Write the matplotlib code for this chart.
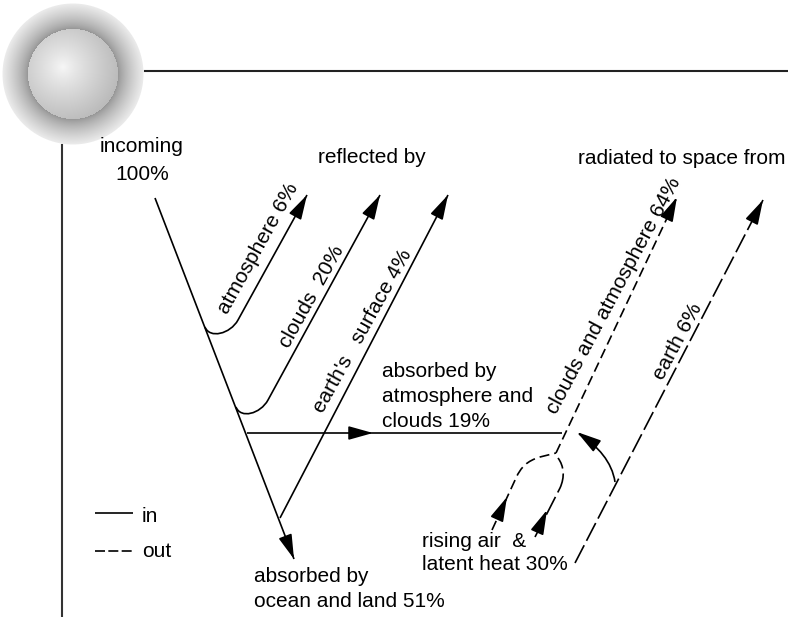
import numpy as np
import matplotlib
matplotlib.use("Agg")
from matplotlib import pyplot as plt
from matplotlib.patches import FancyArrowPatch, PathPatch
from matplotlib.path import Path

plt.rcParams['font.family'] = ['Liberation Sans', 'DejaVu Sans']

# energy budget numbers (percent of incoming sunlight)
incoming_pct = 100
reflected_names = ["atmosphere", "clouds", "earth's   surface"]
reflected_pct = [6, 20, 4]
absorbed_atm_pct = 19
absorbed_surface_pct = 51
radiated_names = ["clouds and atmosphere", "earth"]
radiated_pct = [64, 6]
rising_pct = 30

W, H = 788, 617
fig = plt.figure(figsize=(W / 100, H / 100), dpi=100)
ax = fig.add_axes([0, 0, 1, 1])

LW = 1.2
SHORT = (0, (6, 3))
LONG = (0, (12, 3))
FS = 15


def line(pts, ls='-'):
    pts = np.array(pts, float)
    ax.plot(pts[:, 0], pts[:, 1], color='k', lw=LW, ls=ls, solid_capstyle='butt',
            dash_capstyle='butt')


def curve(verts, codes, ls='-'):
    ax.add_patch(PathPatch(Path(verts, codes), fill=False, ec='k', lw=LW, ls=ls,
                           capstyle='butt'))


def head(tip, frm):
    tip = np.array(tip, float)
    frm = np.array(frm, float)
    d = (tip - frm) / np.hypot(*(tip - frm))
    ax.add_patch(FancyArrowPatch(tuple(tip - d * 22), tuple(tip),
                                 arrowstyle='-|>,head_length=1.5,head_width=0.42',
                                 mutation_scale=10, color='k', lw=LW,
                                 shrinkA=0, shrinkB=0))


M, L, C = Path.MOVETO, Path.LINETO, Path.CURVE4

# shaded sphere in the corner
yy, xx = np.mgrid[0:150, 0:150] + 0.5
r = np.hypot(xx - 73, yy - 74)
img = np.ones((150, 150, 4))
t = np.clip((r - 45) / 26, 0, 1)
halo = 0.58 + 0.35 * t ** 0.75
d = np.hypot(xx - 63, yy - 67)
sph = 0.97 - 0.0074 * d ** 0.86
gray = np.where(r < 45, sph, halo)
img[..., 0] = img[..., 1] = img[..., 2] = gray
img[..., 3] = np.clip(71 - r, 0, 1)
ax.imshow(img, extent=(0, 150, 150, 0), interpolation='bilinear', aspect='auto', zorder=0)

# frame lines
ax.plot([145, W], [71, 71], color='#222222', lw=1.5)
ax.plot([62, 62], [145, H], color='#333333', lw=1.5)

# incoming beam
line([(155, 198), (294, 559)])
head((294, 559), (155, 198))

# reflected by atmosphere
curve([(205, 327), (209.6, 339), (230.3, 334), (238, 320), (307, 195)], [M, C, C, C, L])
head((307, 195), (238, 320))
# reflected by clouds
curve([(236, 407), (240.6, 419), (260.3, 414), (268, 400), (380, 195)], [M, C, C, C, L])
head((380, 195), (268, 400))
# reflected by surface
line([(280, 518), (448, 195)])
head((448, 195), (280, 518))

# absorbed by atmosphere and clouds
line([(247, 433), (562, 433)])
head((373, 433), (247, 433))

# radiated from clouds and atmosphere
line([(556, 453), (677, 197)], ls=SHORT)
head((677, 197), (556, 453))

# rising air
curve([(492, 530), (516, 478), (521, 467), (527, 461), (540, 457), (556, 453)],
      [M, L, C, C, C, L], ls=SHORT)
head((507, 497), (492, 530))
# latent heat
curve([(535, 537), (560, 488), (565, 477), (564, 466), (558, 458)],
      [M, L, C, C, C], ls=LONG)
head((547, 510), (535, 537))

# earth radiation absorbed by atmosphere
curve([(615, 482), (612, 462), (598, 446), (579, 434)], [M, C, C, C])
head((577, 432), (597, 446))

# radiated from earth
line([(575, 563), (763, 200)], ls=LONG)
head((763, 200), (575, 563))

# legend
line([(95, 513), (133, 513)])
line([(95, 551), (133, 551)], ls=(0, (6, 2)))
ax.text(142, 522, "in", fontsize=FS, va='baseline', ha='left')
ax.text(142, 557, "out", fontsize=FS, va='baseline', ha='left')

# labels
ax.text(142, 152, "incoming", fontsize=FS, ha='center', va='baseline')
ax.text(142, 180, f"{incoming_pct}%", fontsize=FS, ha='center', va='baseline')
ax.text(372, 163, "reflected by", fontsize=FS, ha='center', va='baseline')
ax.text(682, 164, "radiated to space from", fontsize=FS, ha='center', va='baseline')

refl_pos = [(258, 248), (312, 297), (363, 331)]
refl_sep = [" ", "  ", " "]
for (x, y), name, sep, p in zip(refl_pos, reflected_names, refl_sep, reflected_pct):
    ax.text(x, y, f"{name}{sep}{p}%", fontsize=FS, rotation=61, rotation_mode='anchor',
            ha='center', va='center')

rad_pos = [(614, 296), (678, 341)]
for (x, y), name, p in zip(rad_pos, radiated_names, radiated_pct):
    ax.text(x, y, f"{name} {p}%", fontsize=FS, rotation=62, rotation_mode='anchor',
            ha='center', va='center')

ax.text(382, 377, "absorbed by", fontsize=FS, va='baseline')
ax.text(382, 402, "atmosphere and", fontsize=FS, va='baseline')
ax.text(382, 427, f"clouds {absorbed_atm_pct}%", fontsize=FS, va='baseline')

ax.text(254, 582, "absorbed by", fontsize=FS, va='baseline')
ax.text(254, 607, f"ocean and land {absorbed_surface_pct}%", fontsize=FS, va='baseline')

ax.text(422, 547, "rising air  &", fontsize=FS, va='baseline')
ax.text(422, 570, f"latent heat {rising_pct}%", fontsize=FS, va='baseline')

ax.set_xlim(0, W)
ax.set_ylim(H, 0)
ax.axis('off')

fig.savefig("out.png", dpi=100)
